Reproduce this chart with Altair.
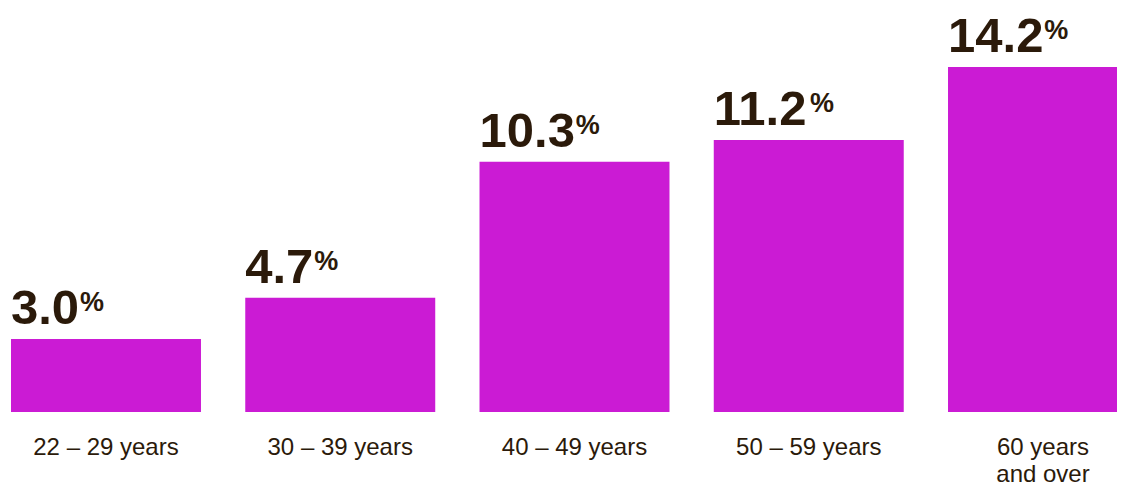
import altair as alt
import pandas as pd

categories = ["22 – 29 years", "30 – 39 years", "40 – 49 years", "50 – 59 years", "60 years\nand over"]
values = [3.0, 4.7, 10.3, 11.2, 14.2]

BAR = "#CB1BD4"
INK = "#2B1A0A"
FONT = "Liberation Sans"
NUM_SIZE = 49

df = pd.DataFrame({"cat": categories, "value": values})

xscale = alt.Scale(domain=categories, range=[0, 1127], paddingInner=0.189, paddingOuter=0)
yscale = alt.Scale(domain=[0, 16.63], nice=False, zero=True)

x_axis = alt.Axis(
    title=None, domain=False, ticks=False, tickSize=0, grid=False,
    labelAngle=0, labelFont=FONT, labelFontSize=24, labelColor=INK,
    labelBaseline="alphabetic", labelPadding=42, labelLineHeight=27,
    labelAlign="center", labelExpr="split(datum.label, '\\n')",
)

base = alt.Chart(df)

bars = base.mark_bar(color=BAR, clip=False).encode(
    x=alt.X("cat:N", scale=xscale, axis=x_axis, sort=categories),
    y=alt.Y("value:Q", scale=yscale, axis=None),
)

nums = base.mark_text(
    align="left", baseline="alphabetic", dx=0, dy=-15,
    font=FONT, fontSize=NUM_SIZE, fontWeight="bold", color=INK,
).encode(
    x=alt.X("cat:N", scale=xscale, bandPosition=0, sort=categories),
    y=alt.Y("value:Q", scale=yscale),
    text=alt.Text("value:Q", format=".1f"),
)

pct = base.transform_calculate(
    off=f"(length(format(datum.value, '.1f')) - 1) * 0.556 * {NUM_SIZE} + 0.278 * {NUM_SIZE} + 1",
    sym="'%'",
).mark_text(
    align="left", baseline="alphabetic", dy=-28,
    font=FONT, fontSize=27, fontWeight="bold", color=INK,
).encode(
    x=alt.X("cat:N", scale=xscale, bandPosition=0, sort=categories),
    xOffset=alt.XOffset("off:Q", scale=None),
    y=alt.Y("value:Q", scale=yscale),
    text="sym:N",
)

chart = alt.layer(bars, nums, pct).properties(
    width=1106, height=404,
    padding={"left": 3, "top": 0, "right": 0, "bottom": 85},
    autosize=alt.AutoSizeParams(type="none"),
    background="white",
).configure_view(stroke=None)

chart.save("out.html", embed_options={"renderer": "svg", "actions": False})
